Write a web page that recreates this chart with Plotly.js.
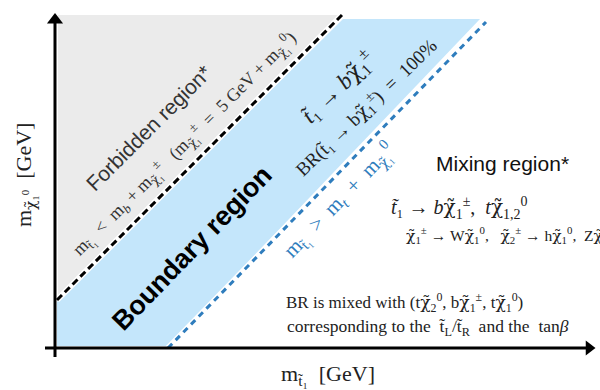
<!DOCTYPE html>
<html>
<head>
<meta charset="utf-8">
<script src="https://cdn.plot.ly/plotly-3.0.1.min.js"></script>
<style>html,body{margin:0;padding:0;background:#fff;}#chart{width:600px;height:390px;}</style>
</head>
<body>
<div id="chart"></div>
<script>
// Schematic region boundaries (arbitrary mass units; origin at the axes corner)
const forbiddenX = [3, 3, 287];
const forbiddenY = [49, 333, 333];
const boundaryX = [2, 113, 425, 288, 2];
const boundaryY = [2, 2, 329, 329, 46];
const kinLimitX = [2, 287];      // m_t1 = m_b + m_chi1pm line
const kinLimitY = [48, 333];
const topLimitX = [113, 431];    // m_t1 = m_t + m_chi10 line
const topLimitY = [0, 326];
const xAxisX = [-10, 534];
const xAxisY = [0, 0];
const yAxisX = [0, 0];
const yAxisY = [-9, 328];

const T = "t\u0303";
const C = "<span style=\"font-family:'DejaVu Serif'\">\u03c7\u0303</span>";

const traces = [
  {x: forbiddenX, y: forbiddenY, mode: "lines", fill: "toself", fillcolor: "rgb(235,235,235)", line: {width: 0}, hoverinfo: "skip"},
  {x: boundaryX, y: boundaryY, mode: "lines", fill: "toself", fillcolor: "rgb(196,230,251)", line: {width: 0}, hoverinfo: "skip"},
  {x: kinLimitX, y: kinLimitY, mode: "lines", line: {color: "#fff", width: 6}, hoverinfo: "skip"},
  {x: kinLimitX, y: kinLimitY, mode: "lines", line: {color: "#000", width: 3, dash: "7px,4px"}, hoverinfo: "skip"},
  {x: topLimitX, y: topLimitY, mode: "lines", line: {color: "#fff", width: 6}, hoverinfo: "skip"},
  {x: topLimitX, y: topLimitY, mode: "lines", line: {color: "#2f7dbd", width: 3, dash: "6px,5px"}, hoverinfo: "skip"},
  {x: xAxisX, y: xAxisY, mode: "lines", line: {color: "#000", width: 3}, hoverinfo: "skip"},
  {x: yAxisX, y: yAxisY, mode: "lines", line: {color: "#000", width: 3}, hoverinfo: "skip"},
  {x: [xAxisX[1]], y: [0], mode: "markers", marker: {symbol: "triangle-right", size: 13, color: "#000"}, hoverinfo: "skip"},
  {x: [0], y: [yAxisY[1]], mode: "markers", marker: {symbol: "triangle-up", size: 14, color: "#000"}, hoverinfo: "skip"}
];

const serif = "Liberation Serif, DejaVu Serif, serif";
const sans = "Liberation Sans, Arial, sans-serif";
function ann(x, y, text, size, opts) {
  return Object.assign({x: x, y: y, text: text, showarrow: false, xref: "x", yref: "y",
    font: {family: serif, size: size, color: "#222"}}, opts || {});
}

const annotations = [
  ann(93, 220, "Forbidden region*", 21, {textangle: -45, font: {family: sans, size: 21, color: "#333"}}),
  ann(129, 205, "m<sub>" + T + "₁</sub>  &lt;  m<sub><i>b</i></sub> + m<sub>" + C + "₁</sub><sup>±</sup>   (m<sub>" + C + "₁</sub><sup>±</sup>  =  5 GeV + m<sub>" + C + "₁</sub><sup>0</sup>)", 18, {textangle: -45, font: {family: serif, size: 18, color: "#333"}}),
  ann(137, 100, "<b>Boundary region</b>", 27, {textangle: -46, font: {family: sans, size: 27, color: "#000"}}),
  ann(282, 261, "<i>" + T + "</i>₁ → <i>b</i>" + C + "<sub>1</sub><sup>±</sup>", 23, {textangle: -44}),
  ann(311, 241, "BR(" + T + "₁ → b" + C + "<sub>1</sub><sup>±</sup>)  =  100%", 19, {textangle: -44}),
  ann(283, 148, "m<sub>" + T + "₁</sub>  &gt;  m<sub><i>t</i></sub>  +  m<sub>" + C + "₁</sub><sup>0</sup>", 21, {textangle: -46, font: {family: serif, size: 21, color: "#2f7dbd"}}),
  ann(447, 185, "Mixing region*", 21, {font: {family: sans, size: 21, color: "#111"}}),
  ann(334, 140, "<i>" + T + "</i>₁ → <i>b</i>" + C + "<sub>1</sub><sup>±</sup>,  <i>t</i>" + C + "<sub>1,2</sub><sup>0</sup>", 20, {xanchor: "left"}),
  ann(349, 113, C + "<sub>1</sub><sup>±</sup> → W" + C + "<sub>1</sub><sup>0</sup>,   " + C + "<sub>2</sub><sup>±</sup> → h" + C + "<sub>1</sub><sup>0</sup>,  Z" + C + "<sub>1</sub><sup>0</sup>", 15.5, {xanchor: "left"}),
  ann(229, 46, "BR is mixed with (t" + C + "<sub>2</sub><sup>0</sup>, b" + C + "<sub>1</sub><sup>±</sup>, t" + C + "<sub>1</sub><sup>0</sup>)", 17, {xanchor: "left"}),
  ann(230, 21, "corresponding to the  " + T + "<sub>L</sub>/" + T + "<sub>R</sub>  and the  tan<i>β</i>", 17.5, {xanchor: "left"}),
  ann(273, -27, "m<sub>" + T + "₁</sub>  [GeV]", 22, {}),
  ann(-30, 173, "m<sub>" + C + "₁<sup>0</sup></sub>  [GeV]", 22, {textangle: -90})
];

const layout = {
  width: 600, height: 390,
  margin: {l: 0, r: 0, t: 0, b: 0},
  paper_bgcolor: "#fff", plot_bgcolor: "#fff",
  showlegend: false,
  xaxis: {range: [-55, 545], visible: false, fixedrange: true},
  yaxis: {range: [-42, 348], visible: false, fixedrange: true},
  annotations: annotations
};

Plotly.newPlot("chart", traces, layout, {staticPlot: true, displayModeBar: false});
</script>
</body>
</html>
